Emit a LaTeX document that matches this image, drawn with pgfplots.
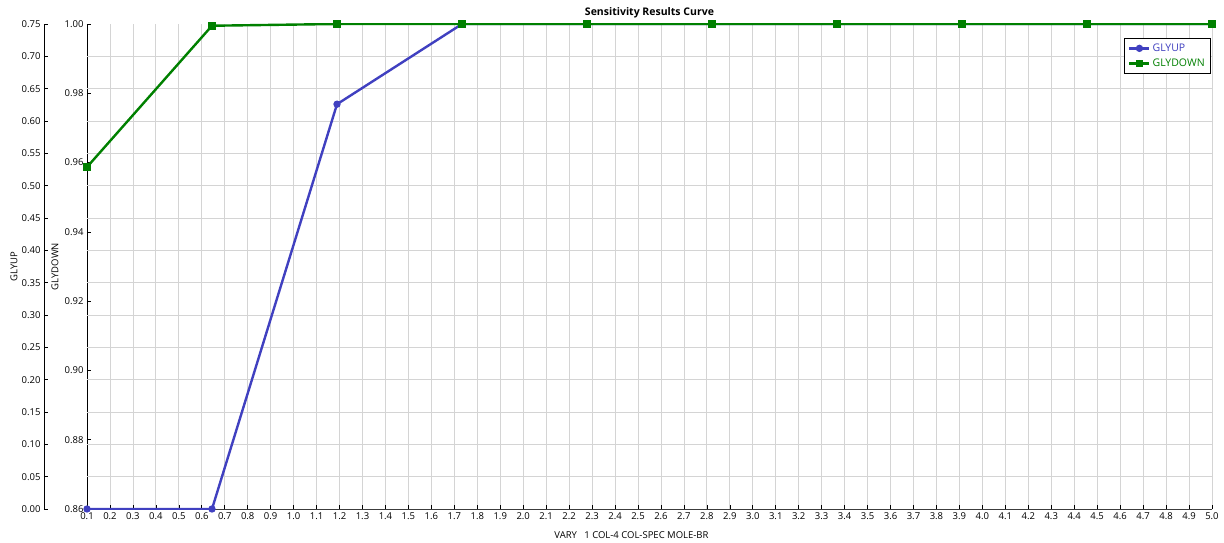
\documentclass[border=0pt]{standalone}
\usepackage{fontspec}
\setmainfont{Open Sans}
\usepackage{pgfplots}
\pgfplotsset{compat=1.18}
\definecolor{gup}{RGB}{64,64,192}
\definecolor{gdown}{RGB}{0,128,0}
\definecolor{gridc}{RGB}{212,212,212}
\definecolor{axc}{RGB}{60,60,60}
\begin{document}
\begin{tikzpicture}
\useasboundingbox (-87pt,-33pt) rectangle (1137pt,509pt);
\pgfplotsset{
  common/.style={
    anchor=south west,
    scale only axis, height=485pt,
    xmax=5.0,
    font=\fontsize{9.5}{11}\selectfont,
    /pgf/number format/assume math mode=true,
    tick align=inside, major tick length=4pt,
    axis line style={-},
    grid style={gridc, line width=0.8pt},
    tick style={black, line width=0.6pt},
  }
}
% GLYDOWN axis with grid (drawn first)
\begin{axis}[common, at={(0pt,0pt)}, width=1125pt, xmin=0.1,
  ymin=0.86, ymax=1.00,
  ytick={0.86,0.88,0.90,0.92,0.94,0.96,0.98,1.00},
  yticklabel style={/pgf/number format/.cd, fixed, fixed zerofill, precision=2},
  extra y ticks={0.869333,0.878667,0.888,0.897333,0.906667,0.916,0.925333,0.934667,0.944,0.953333,0.962667,0.972,0.981333,0.990667},
  extra y tick labels={},
  extra y tick style={grid=major, major tick length=0pt},
  xtick={0.1,0.2,0.3,0.4,0.5,0.6,0.7,0.8,0.9,1.0,1.1,1.2,1.3,1.4,1.5,1.6,1.7,1.8,1.9,2.0,2.1,2.2,2.3,2.4,2.5,2.6,2.7,2.8,2.9,3.0,3.1,3.2,3.3,3.4,3.5,3.6,3.7,3.8,3.9,4.0,4.1,4.2,4.3,4.4,4.5,4.6,4.7,4.8,4.9,5.0},
  xticklabel style={/pgf/number format/.cd, fixed, fixed zerofill, precision=1},
  axis y line*=left, axis x line*=bottom,
  y axis line style={black, line width=0.8pt},
  x axis line style={axc, line width=0.8pt},
  xmajorgrids,
  ylabel={GLYDOWN},
  every axis y label/.style={at={(axis description cs:0,0.5)}, rotate=90, anchor=center, yshift=32pt},
  xlabel={VARY\ \ \ 1 COL-4 COL-SPEC MOLE-BR},
  every axis x label/.style={at={(axis description cs:0.5,0)}, anchor=center, yshift=-26pt, xshift=-18pt},
  title={Sensitivity Results Curve},
  every axis title/.style={at={(axis description cs:0.5,1)}, anchor=center, yshift=11pt, font=\fontsize{10.5}{12}\selectfont\bfseries},
]
\end{axis}
% GLYUP axis (its left edge is 43pt further left)
\begin{axis}[common, at={(-43pt,0pt)}, width=1168pt, xmin=-0.08729,
  ymin=0, ymax=0.75,
  ytick={0,0.05,0.10,0.15,0.20,0.25,0.30,0.35,0.40,0.45,0.50,0.55,0.60,0.65,0.70,0.75},
  yticklabel style={/pgf/number format/.cd, fixed, fixed zerofill, precision=2},
  axis y line*=left,
  y axis line style={black, line width=0.8pt},
  hide x axis,
  ylabel={GLYUP},
  every axis y label/.style={at={(axis description cs:0,0.5)}, rotate=90, anchor=center, yshift=30pt},
]
\addplot[gup, line width=2.4pt, mark=*, mark size=2.4pt] coordinates {
(0.1,0) (0.6444,0) (1.1889,0.626) (1.7333,0.75) (2.2778,0.75) (2.8222,0.75) (3.3667,0.75) (3.9111,0.75) (4.4556,0.75) (5.0,0.75)
};
\end{axis}
% GLYDOWN data and legend (drawn on top)
\begin{axis}[common, at={(0pt,0pt)}, width=1125pt, xmin=0.1,
  ymin=0.86, ymax=1.00,
  hide axis,
  legend style={at={(1,1)}, anchor=north east, xshift=-1pt, yshift=-14pt, draw=black, line width=0.6pt, font=\fontsize{10.5}{12}\selectfont, row sep=2pt, inner xsep=4pt, inner ysep=3.5pt},
  legend cell align=left,
  legend image code/.code={\draw[mark repeat=2,mark phase=2] plot coordinates {(0pt,0pt) (10pt,0pt) (20pt,0pt)};},
]
\addlegendimage{gup, line width=2.4pt, mark=*, mark size=2.4pt}
\addlegendentry{\textcolor{gup}{GLYUP}}
\addplot[gdown, line width=2.4pt, mark=square*, mark size=2.6pt] coordinates {
(0.1,0.9587) (0.6444,0.9995) (1.1889,1.0) (1.7333,1.0) (2.2778,1.0) (2.8222,1.0) (3.3667,1.0) (3.9111,1.0) (4.4556,1.0) (5.0,1.0)
};
\addlegendentry{\textcolor{gdown}{GLYDOWN}}
\end{axis}
\end{tikzpicture}
\end{document}
